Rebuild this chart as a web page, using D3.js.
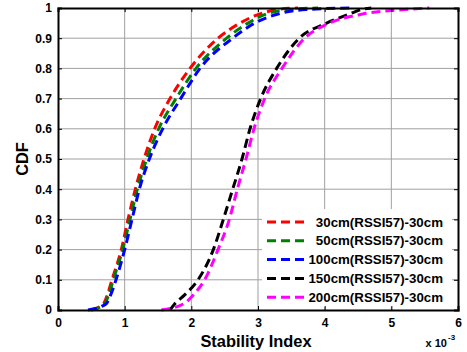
<!DOCTYPE html>
<html>
<head>
<meta charset="utf-8">
<script src="https://cdn.jsdelivr.net/npm/d3@7"></script>
<style>
  body { margin: 0; background: #fff; }
  svg { display: block; font-family: "Liberation Sans", Arial, sans-serif; font-weight: bold; }
</style>
</head>
<body>
<svg id="chart" width="467" height="352"></svg>
<script>
// CDF levels shared by every series
const cdfLevels = [0, 0.02, 0.05, 0.1, 0.2, 0.3, 0.4, 0.5, 0.6, 0.7, 0.8, 0.9, 0.95, 0.98, 0.995, 1];

// stability index (x 1e-3) at each CDF level
const s30  = [0.50, 0.68, 0.74, 0.81, 0.95, 1.05, 1.16, 1.29, 1.45, 1.68, 1.98, 2.40, 2.73, 3.02, 3.30, 3.60];
const s50  = [0.50, 0.70, 0.76, 0.83, 0.97, 1.08, 1.19, 1.33, 1.51, 1.77, 2.07, 2.53, 2.85, 3.12, 3.50, 3.90];
const s100 = [0.45, 0.72, 0.79, 0.87, 1.00, 1.11, 1.22, 1.37, 1.57, 1.84, 2.13, 2.62, 2.95, 3.30, 3.72, 4.40];
const s150 = [1.68, 1.75, 1.90, 2.10, 2.33, 2.48, 2.62, 2.76, 2.88, 3.04, 3.28, 3.62, 4.03, 4.37, 4.55, 4.70];
const s200 = [1.55, 1.88, 2.03, 2.20, 2.40, 2.57, 2.69, 2.82, 2.94, 3.10, 3.36, 3.70, 4.07, 4.57, 5.20, 5.57];

const seriesNames = ["30cm(RSSI57)-30cm", "50cm(RSSI57)-30cm", "100cm(RSSI57)-30cm", "150cm(RSSI57)-30cm", "200cm(RSSI57)-30cm"];
const seriesColors = ["#ff0000", "#008000", "#0000ff", "#000000", "#ff00ff"];
const seriesValues = [s30, s50, s100, s150, s200];

const xTicks = [0, 1, 2, 3, 4, 5, 6];
const yTicks = [0, 0.1, 0.2, 0.3, 0.4, 0.5, 0.6, 0.7, 0.8, 0.9, 1];

const svg = d3.select("#chart");
const margin = {left: 58, right: 9, top: 8, bottom: 42};
const W = 467, H = 352;

const x = d3.scaleLinear().domain([0, 6]).range([margin.left, W - margin.right]);
const y = d3.scaleLinear().domain([0, 1]).range([H - margin.bottom, margin.top]);

// grid
svg.append("g").selectAll("line").data(xTicks.slice(1, -1)).join("line")
  .attr("x1", d => x(d)).attr("x2", d => x(d))
  .attr("y1", y(0)).attr("y2", y(1))
  .attr("stroke", "#a0a0a0").attr("stroke-width", 1);
svg.append("g").selectAll("line").data(yTicks.slice(1, -1)).join("line")
  .attr("x1", x(0)).attr("x2", x(6))
  .attr("y1", d => y(d)).attr("y2", d => y(d))
  .attr("stroke", "#a0a0a0").attr("stroke-width", 1);

// curves
const line = d3.line()
  .x(d => x(d[0]))
  .y(d => y(d[1]))
  .curve(d3.curveMonotoneX);

const curves = svg.append("g");
seriesValues.forEach((vals, i) => {
  curves.append("path")
    .datum(vals.map((v, k) => [v, cdfLevels[k]]))
    .attr("d", line)
    .attr("fill", "none")
    .attr("stroke", seriesColors[i])
    .attr("stroke-width", 3)
    .attr("stroke-dasharray", "9,5");
});

// legend
const lg = svg.append("g");
lg.append("rect").attr("x", 262).attr("y", 209).attr("width", 190).attr("height", 98).attr("fill", "#fff");
seriesNames.forEach((name, i) => {
  const ly = 222 + i * 18.8;
  lg.append("line").attr("x1", 267).attr("x2", 304).attr("y1", ly).attr("y2", ly)
    .attr("stroke", seriesColors[i]).attr("stroke-width", 3).attr("stroke-dasharray", "9,5");
  lg.append("text").attr("x", 443).attr("y", ly + 4.5).attr("text-anchor", "end")
    .attr("font-size", 13.3).text(name);
});

// axes
const xAxis = svg.append("g").attr("transform", `translate(0,${y(0)})`)
  .call(d3.axisBottom(x).tickValues(xTicks).tickFormat(d3.format("d")).tickSize(-4).tickPadding(8));
const xAxisTop = svg.append("g").attr("transform", `translate(0,${y(1)})`)
  .call(d3.axisTop(x).tickValues(xTicks).tickFormat("").tickSize(-4));
const yAxis = svg.append("g").attr("transform", `translate(${x(0)},0)`)
  .call(d3.axisLeft(y).tickValues(yTicks).tickFormat(d => d === 0 || d === 1 ? d : d3.format(".1f")(d)).tickSize(-4).tickPadding(6));
const yAxisRight = svg.append("g").attr("transform", `translate(${x(6)},0)`)
  .call(d3.axisRight(y).tickValues(yTicks).tickFormat("").tickSize(-4));

[xAxis, xAxisTop, yAxis, yAxisRight].forEach(g => {
  g.select(".domain").attr("stroke", "#000").attr("stroke-width", 2);
  g.selectAll(".tick line").attr("stroke", "#000");
  g.selectAll("text").attr("font-size", 12).attr("font-weight", "bold").attr("fill", "#000")
    .attr("font-family", "Liberation Sans, Arial, sans-serif");
});

// titles
svg.append("text").attr("x", 256).attr("y", 347).attr("text-anchor", "middle")
  .attr("font-size", 16.4).text("Stability Index");
svg.append("text").attr("transform", `translate(28,${(y(0) + y(1)) / 2}) rotate(-90)`)
  .attr("text-anchor", "middle").attr("font-size", 16.4).text("CDF");
svg.append("text").attr("x", 447).attr("y", 347).attr("text-anchor", "end").attr("font-size", 11).text("x 10");
svg.append("text").attr("x", 448).attr("y", 340).attr("font-size", 8).text("-3");
</script>
</body>
</html>
